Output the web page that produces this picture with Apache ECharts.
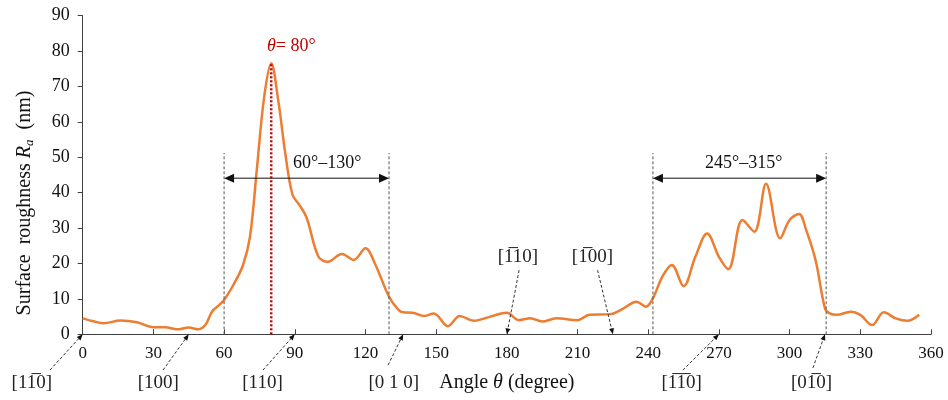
<!DOCTYPE html>
<html><head><meta charset="utf-8">
<script src="https://cdn.jsdelivr.net/npm/echarts@6/dist/echarts.min.js"></script>
<style>html,body{margin:0;padding:0;background:#fff}#c{width:948px;height:400px}</style>
</head><body><div id="c"></div>
<script>
// ---- data ----
const angles =    [0,  5,  9,  16, 23, 30, 35, 40, 45, 49, 52, 55, 58, 60, 64, 68,  71,  74,  77, 80,  83, 86, 89,  92,  95, 100, 104, 110, 115, 120, 124, 130, 134, 136, 140, 145, 149, 155, 160, 166, 173, 180, 185, 190, 195, 201, 210, 215, 224, 229, 235, 239, 242, 246, 250, 255, 260, 265, 270, 274, 280, 285, 290, 296, 300, 304, 307, 311, 315, 317, 320, 326, 330, 335, 340, 345, 350, 355];
const roughness = [4.5,3.6,3.1,3.9,3.4,2.0,2.0,1.4,1.9,1.4,2.6,6.5,8.3,9.7,14, 19.5,27.6,47.3,67, 76.6,66, 51, 39.5,36.5,33, 22,  20.5,22.7,21,  24.3,20,  10.6,6.9, 6.2, 6.1, 5.2, 5.9, 2.3, 5.2, 3.8, 5.0, 6.1, 4.0, 4.5, 3.6, 4.5, 4.0, 5.5, 5.7, 7.1, 9.2, 7.8, 10.2,16.3,19.6,13.6,21.9,28.5,21.9,18.4,32.3,29,  42.5,27.1,32.3,34,  29.5,21,  7.3, 5.9, 5.5, 6.4, 5.5, 2.6, 6.2, 4.5, 3.8, 5.5];
const peakAngle = 80, peakValue = 76.6;
const peakLabel = '= 80°';
const rangeStarts = [60, 242];
const rangeEnds = [130, 315.5];
const rangeLabels = ['60°–130°', '245°–315°'];
const dirLabels = ['[11\u03050]', '[100]', '[110]', '[0 1 0]', '[1\u03051\u03050]', '[01\u03050]', '[1\u030510]', '[1\u030500]'];
const dirAngles = [0, 45, 90, 136, 270, 315, 180, 225];

// ---- layout (data coords) ----
const rangeTop = 51.2, arrowY = 44.1, rangeLabelY = 48.2;
const rangeLabelX = [103.8, 280.5];
const dirLabelX = [-21.6, 32.1, 76.3, 132, 254.2, 309.3, 184.7, 216.3];
const dirLabelY = [-13.8, -13.8, -13.8, -13.8, -13.8, -13.8, 21.9, 21.9];
const dirFromX = [-13.9, 34.1, 76.5, 129.6, 254.7, 309.9, 185.2, 218.5];
const dirFromY = [-10.1, -10.1, -10.1, -8.7, -10.1, -9.5, 18.1, 18.1];

const FONT = 'Liberation Serif';
const chart = echarts.init(document.getElementById('c'), null, {renderer: 'canvas'});
chart.setOption({
  animation: false,
  backgroundColor: '#fff',
  grid: {left: 82.7, right: 17, top: 15.7, bottom: 65.7},
  xAxis: {
    type: 'value', min: 0, max: 360, interval: 30,
    name: '{n|Angle }{i|θ}{n| (degree)}', nameLocation: 'middle', nameGap: 38,
    nameTextStyle: {fontFamily: FONT, fontSize: 20, color: '#111',
      rich: {n: {fontFamily: FONT, fontSize: 20, color: '#111'}, i: {fontFamily: FONT, fontSize: 20, fontStyle: 'italic', color: '#111'}}},
    axisLine: {lineStyle: {color: '#404040', width: 1}},
    axisTick: {inside: true, length: 5, lineStyle: {color: '#404040'}},
    axisLabel: {fontFamily: FONT, fontSize: 17, color: '#111', margin: 11},
    splitLine: {show: false}
  },
  yAxis: {
    type: 'value', min: 0, max: 90, interval: 10,
    name: '{n|Surface  roughness }{i|R}{s|a}{n|  (nm)}', nameLocation: 'middle', nameGap: 47,
    nameTextStyle: {fontFamily: FONT, fontSize: 20, color: '#111', padding: [0, 56, 0, 0],
      rich: {n: {fontFamily: FONT, fontSize: 20, color: '#111'},
             i: {fontFamily: FONT, fontSize: 20, fontStyle: 'italic', color: '#111'},
             s: {fontFamily: FONT, fontSize: 13, fontStyle: 'italic', color: '#111', padding: [9, 0, 0, 0]}}},
    axisLine: {show: true, lineStyle: {color: '#404040', width: 1}},
    axisTick: {show: true, inside: false, length: 5, lineStyle: {color: '#404040'}},
    axisLabel: {fontFamily: FONT, fontSize: 18, color: '#111', margin: 13},
    splitLine: {show: false}
  },
  series: [{
    type: 'line', smooth: 0.35, symbol: 'none',
    data: angles.map((a, i) => [a, roughness[i]]),
    lineStyle: {color: '#ED7D31', width: 2.5},
    z: 3
  }]
});

const px = (x, y) => chart.convertToPixel({gridIndex: 0}, [x, y]);
function head(from, tip, L, W, color) {
  const dx = tip[0] - from[0], dy = tip[1] - from[1];
  const d = Math.hypot(dx, dy), ux = dx / d, uy = dy / d;
  const bx = tip[0] - ux * L, by = tip[1] - uy * L;
  return {type: 'polygon', z: 20, shape: {points: [tip, [bx - uy * W, by + ux * W], [bx + uy * W, by - ux * W]]}, style: {fill: color}};
}
const g = [];
// range markers
for (let k = 0; k < rangeStarts.length; k++) {
  for (const a of [rangeStarts[k], rangeEnds[k]]) {
    const p0 = px(a, 0), p1 = px(a, rangeTop);
    g.push({type: 'line', z: 5, shape: {x1: p0[0], y1: p0[1], x2: p1[0], y2: p1[1]}, style: {stroke: '#555', lineWidth: 1, lineDash: [3, 2]}});
  }
  const a0 = px(rangeStarts[k], arrowY), a1 = px(rangeEnds[k], arrowY);
  g.push({type: 'line', z: 20, shape: {x1: a0[0] + 6, y1: a0[1], x2: a1[0] - 6, y2: a1[1]}, style: {stroke: '#111', lineWidth: 1}});
  g.push(head(a1, a0, 10, 4.5, '#111'));
  g.push(head(a0, a1, 10, 4.5, '#111'));
  const lp = px(rangeLabelX[k], rangeLabelY);
  g.push({type: 'text', z: 20, x: lp[0], y: lp[1], style: {text: rangeLabels[k], font: '18px "' + FONT + '"', fill: '#111', align: 'center', verticalAlign: 'middle'}});
}
// peak marker
{
  const p0 = px(peakAngle, 0), p1 = px(peakAngle, peakValue);
  g.push({type: 'line', z: 25, shape: {x1: p0[0], y1: p0[1], x2: p1[0], y2: p1[1]}, style: {stroke: '#C00000', lineWidth: 2.5, lineDash: [2, 2]}});
  const lp = px(88.5, 81.4);
  g.push({type: 'text', z: 25, x: lp[0], y: lp[1], style: {
    text: '{i|θ}{n|' + peakLabel + '}', align: 'center', verticalAlign: 'middle',
    rich: {i: {fontFamily: FONT, fontSize: 18, fontStyle: 'italic', fill: '#C00000'}, n: {fontFamily: FONT, fontSize: 18, fill: '#C00000'}}}});
}
// crystal direction pointers
for (let k = 0; k < dirLabels.length; k++) {
  const from = px(dirFromX[k], dirFromY[k]), tip = px(dirAngles[k], 0);
  const d = Math.hypot(tip[0] - from[0], tip[1] - from[1]);
  const ux = (tip[0] - from[0]) / d, uy = (tip[1] - from[1]) / d;
  g.push({type: 'line', z: 20, shape: {x1: from[0], y1: from[1], x2: tip[0] - ux * 5, y2: tip[1] - uy * 5}, style: {stroke: '#333', lineWidth: 1, lineDash: [3, 2]}});
  g.push(head(from, tip, 6, 2.5, '#111'));
  const lp = px(dirLabelX[k], dirLabelY[k]);
  g.push({type: 'text', z: 20, x: lp[0], y: lp[1], style: {text: dirLabels[k], font: '19px "' + FONT + '"', fill: '#222', align: 'center', verticalAlign: 'middle'}});
}
chart.setOption({graphic: g});
</script></body></html>
